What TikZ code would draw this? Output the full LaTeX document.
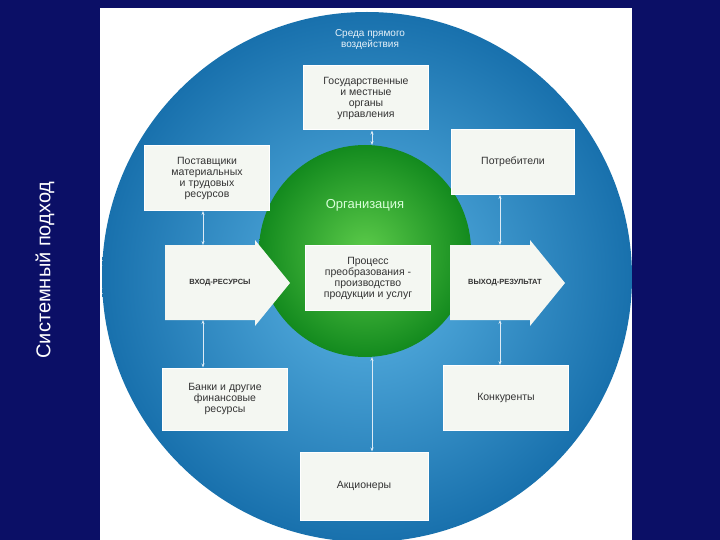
\documentclass[tikz,border=0pt]{standalone}
\usepackage{fontspec}
\setmainfont{Liberation Sans}
\usetikzlibrary{arrows.meta}
\definecolor{navy}{HTML}{0B0F66}
\definecolor{bluec}{HTML}{1B7DC0}
\definecolor{bluel}{HTML}{5DB6E6}
\definecolor{greend}{HTML}{138A1E}
\definecolor{greenl}{HTML}{5CCB4A}
\definecolor{boxf}{HTML}{F4F7F2}
\tikzset{
  wbox/.style={draw=white,line width=1pt,fill=boxf,minimum width=#1,align=center,font=\fontsize{10.5}{11}\selectfont,text=black!80,inner sep=2pt},
  wbox/.default=125pt,
  arrlab/.style={font=\fontsize{7.5}{9}\selectfont\bfseries,text=black!80},
  arrfill/.style={fill=boxf},
  link/.style={draw=white!85!bluec,line width=1pt,{Stealth[length=4pt]}-{Stealth[length=4pt]}}
}
\begin{document}
\begin{tikzpicture}[x=1pt,y=-1pt]
\useasboundingbox (0,0) rectangle (720,540);
\fill[navy] (0,0) rectangle (720,540);
\fill[white] (100,8) rectangle (632,540);
\begin{scope}
\clip (100,8) rectangle (632,540);
\shade[inner color=bluel,outer color=bluec!90!black] (367,277) circle (265);
\end{scope}
\shade[inner color=greenl,outer color=greend] (365,251) circle (106);
\node[rotate=90,text=white,font=\fontsize{20}{22}\selectfont] (title) at (45,270) {Системный подход};
\node[text=white!90!bluec,align=center,font=\fontsize{10}{11}\selectfont] (env) at (370,40) {Среда прямого\\воздействия};
\node[text=white!85!green,font=\fontsize{13}{14}\selectfont] (org) at (365,205) {Организация};
\node[wbox,minimum height=64pt] (gov) at (366,98) {Государственные\\и местные\\органы\\управления};
\node[wbox,minimum height=65pt] (sup) at (207,178) {Поставщики\\материальных\\и трудовых\\ресурсов};
\node[wbox=123pt,minimum height=65pt] (cons) at (513,162) {Потребители};
\path[arrfill] (165,245) -- (255,245) -- (255,240) -- (290,283) -- (255,326) -- (255,320) -- (165,320) -- cycle;
\node[arrlab] (inl) at (220,283) {ВХОД-РЕСУРСЫ};
\node[wbox,minimum height=65pt] (proc) at (368,278) {Процесс\\преобразования -\\производство\\продукции и услуг};
\path[arrfill] (450,245) -- (530,245) -- (530,240) -- (565,283) -- (530,326) -- (530,320) -- (450,320) -- cycle;
\node[arrlab] (outl) at (505,283) {ВЫХОД-РЕЗУЛЬТАТ};
\node[wbox,minimum height=62pt] (bank) at (225,399) {Банки и другие\\финансовые\\ресурсы};
\node[wbox,minimum height=65pt] (comp) at (506,398) {Конкуренты};
\node[wbox=128pt,minimum height=68pt] (share) at (364,486) {Акционеры};
\coordinate (gt) at (372,145);
\coordinate (gb) at (372,357);
\coordinate (int) at (203,245);
\coordinate (inb) at (203,320);
\coordinate (outt) at (500,245);
\coordinate (outb) at (500,320);
\draw[link] (gov.south -| gt) -- (gt);
\draw[link] (gb) -- (share.north -| gb);
\draw[link] (sup.south -| int) -- (int);
\draw[link] (inb) -- (bank.north -| inb);
\draw[link] (cons.south -| outt) -- (outt);
\draw[link] (outb) -- (comp.north -| outb);
\end{tikzpicture}
\end{document}
